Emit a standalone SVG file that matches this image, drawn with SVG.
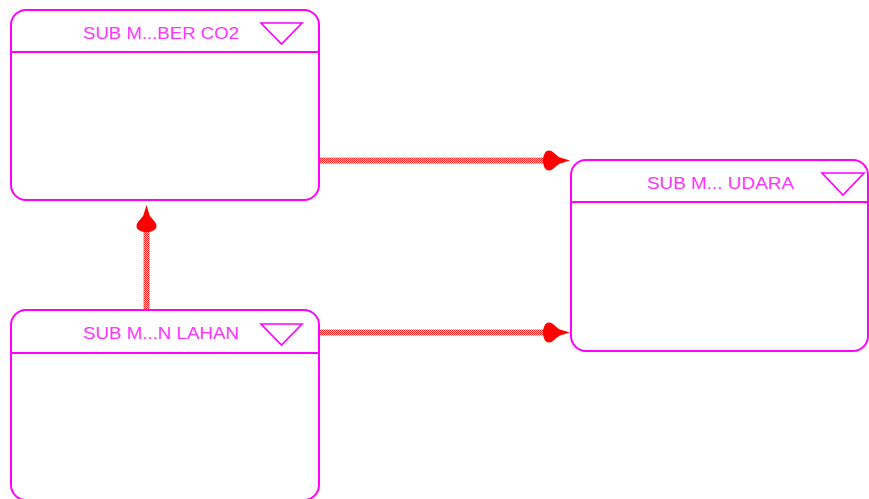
<svg xmlns="http://www.w3.org/2000/svg" width="869" height="499" viewBox="0 0 869 499">
  <style>
    .frame { fill: #ffffff; stroke: #ff00ff; stroke-width: 2; }
    .divider { stroke: #ff00ff; stroke-width: 2; fill: none; }
    .toggle { fill: none; stroke: #ff00ff; stroke-width: 1.6; stroke-linejoin: miter; }
    .title { font-family: "Liberation Sans", Arial, sans-serif; font-size: 16.5px; fill: #ff33ff; }
    .flow { stroke: url(#hatch); stroke-width: 6; fill: none; marker-end: url(#head); }
  </style>
  <defs>
    <!-- checkered red texture for the flow lines -->
    <pattern id="hatch" width="2" height="2" patternUnits="userSpaceOnUse">
      <rect width="2" height="2" fill="#ffc0c0"/>
      <rect width="1" height="1" fill="#ff2020"/>
      <rect x="1" y="1" width="1" height="1" fill="#ff2020"/>
    </pattern>
    <!-- bulbous arrowhead; tip sits 20 units beyond the line end -->
    <marker id="head" viewBox="-28 -11 29 22" refX="-20" refY="0" markerWidth="29" markerHeight="22" markerUnits="userSpaceOnUse" orient="auto">
      <path d="M0,0 L-10,-3 C-14,-5 -17,-10 -21,-10 C-25,-10 -27,-5 -27,0 C-27,5 -25,10 -21,10 C-17,10 -14,5 -10,3 Z" fill="#ff0000"/>
    </marker>
  </defs>

  <g id="connectors">
    <line class="flow" x1="320" y1="160.5" x2="550" y2="160.5"/>
    <line class="flow" x1="320" y1="332.5" x2="550" y2="332.5"/>
    <line class="flow" x1="146.5" y1="310" x2="146.5" y2="225"/>
  </g>

  <g id="sub-sumber-co2">
    <rect class="frame" x="11" y="10" width="308" height="190" rx="15" ry="15"/>
    <line class="divider" x1="11" y1="52" x2="319" y2="52"/>
    <text class="title" x="83" y="38.5" textLength="156" lengthAdjust="spacingAndGlyphs">SUB M...BER CO2</text>
    <polygon class="toggle" points="261,23 302,23 281.5,44"/>
  </g>

  <g id="sub-lahan">
    <rect class="frame" x="11" y="310" width="308" height="190" rx="15" ry="15"/>
    <line class="divider" x1="11" y1="353" x2="319" y2="353"/>
    <text class="title" x="83" y="339" textLength="156" lengthAdjust="spacingAndGlyphs">SUB M...N LAHAN</text>
    <polygon class="toggle" points="261,324 302,324 281.5,345"/>
  </g>

  <g id="sub-udara">
    <rect class="frame" x="571" y="160" width="297" height="191" rx="15" ry="15"/>
    <line class="divider" x1="571" y1="202" x2="868" y2="202"/>
    <text class="title" x="647" y="188.5" textLength="147" lengthAdjust="spacingAndGlyphs">SUB M... UDARA</text>
    <polygon class="toggle" points="822,173 864,173 843,195"/>
  </g>
</svg>
